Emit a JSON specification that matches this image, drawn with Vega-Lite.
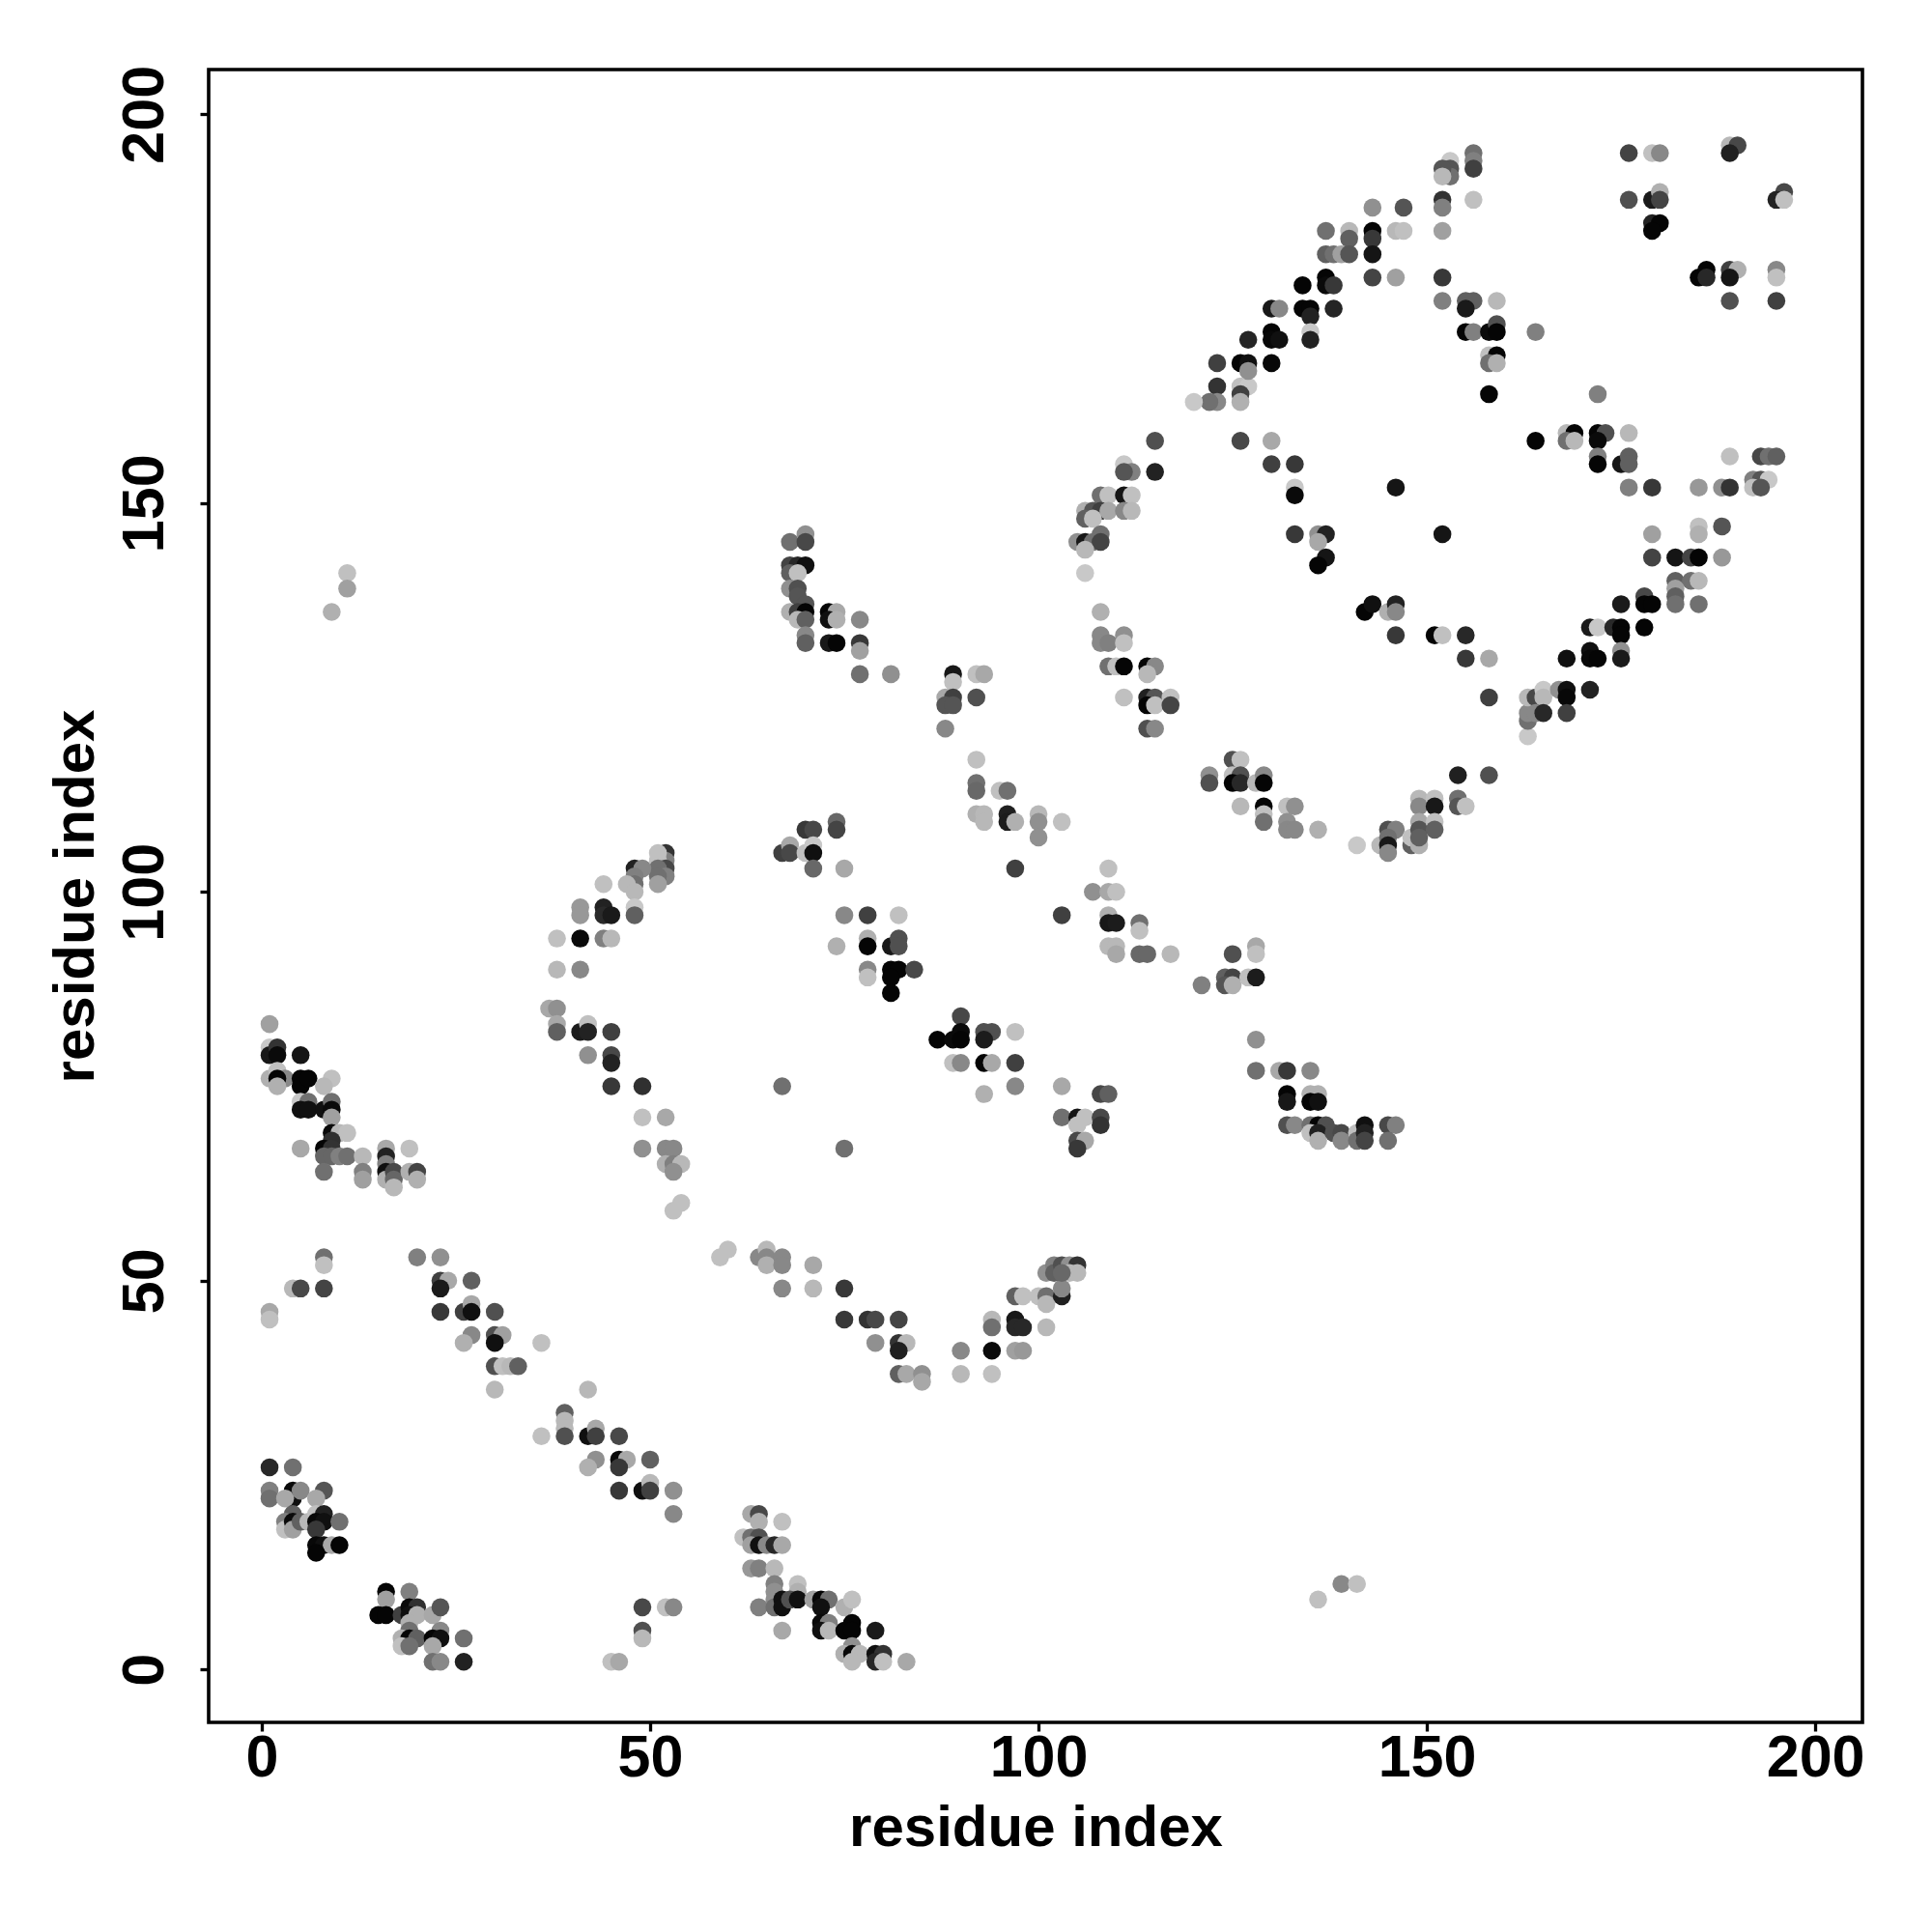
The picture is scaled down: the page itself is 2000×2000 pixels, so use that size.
{"$schema":"https://vega.github.io/schema/vega-lite/v6.json","width":1712,"height":1711,"autosize":{"type":"none"},"padding":{"left":216,"top":72,"right":72,"bottom":217},"background":"white","config":{"view":{"stroke":"#000000","strokeWidth":3.6}},"data":{"values":[
{"x":1,"y":83,"g":160},{"x":1,"y":80,"g":200},{"x":1,"y":79,"g":24},{"x":2,"y":80,"g":51},{"x":2,"y":79,"g":10},{"x":5,"y":79,"g":21},{"x":1,"y":76,"g":176},{"x":2,"y":77,"g":192},{"x":3,"y":76,"g":136},{"x":2,"y":76,"g":5},{"x":2,"y":75,"g":176},{"x":5,"y":76,"g":5},{"x":5,"y":75,"g":5},{"x":6,"y":76,"g":5},{"x":9,"y":76,"g":192},{"x":8,"y":75,"g":184},{"x":5,"y":73,"g":200},{"x":6,"y":73,"g":112},{"x":5,"y":72,"g":16},{"x":6,"y":72,"g":16},{"x":8,"y":72,"g":16},{"x":9,"y":73,"g":112},{"x":9,"y":72,"g":10},{"x":9,"y":71,"g":160},{"x":9,"y":69,"g":10},{"x":10,"y":69,"g":184},{"x":11,"y":69,"g":192},{"x":9,"y":68,"g":48},{"x":5,"y":67,"g":168},{"x":8,"y":67,"g":5},{"x":9,"y":67,"g":51},{"x":8,"y":66,"g":102},{"x":9,"y":66,"g":102},{"x":10,"y":66,"g":128},{"x":11,"y":66,"g":112},{"x":13,"y":66,"g":184},{"x":8,"y":64,"g":112},{"x":13,"y":64,"g":128},{"x":13,"y":63,"g":160},{"x":16,"y":67,"g":168},{"x":19,"y":67,"g":192},{"x":16,"y":66,"g":34},{"x":16,"y":65,"g":128},{"x":16,"y":64,"g":16},{"x":16,"y":63,"g":176},{"x":17,"y":64,"g":72},{"x":17,"y":63,"g":102},{"x":17,"y":62,"g":184},{"x":19,"y":64,"g":176},{"x":20,"y":64,"g":68},{"x":20,"y":63,"g":176},
{"x":20,"y":53,"g":128},{"x":23,"y":53,"g":144},{"x":23,"y":50,"g":64},{"x":24,"y":50,"g":168},{"x":23,"y":49,"g":26},{"x":27,"y":50,"g":96},{"x":8,"y":53,"g":112},{"x":8,"y":52,"g":192},{"x":4,"y":49,"g":184},{"x":5,"y":49,"g":72},{"x":8,"y":49,"g":68},{"x":1,"y":46,"g":168},{"x":1,"y":45,"g":192},{"x":23,"y":46,"g":56},{"x":26,"y":46,"g":64},{"x":27,"y":47,"g":168},{"x":27,"y":46,"g":16},{"x":30,"y":46,"g":80},{"x":27,"y":43,"g":136},{"x":26,"y":42,"g":176},{"x":30,"y":43,"g":80},{"x":31,"y":43,"g":160},{"x":30,"y":42,"g":16},{"x":36,"y":42,"g":192},{"x":30,"y":39,"g":80},{"x":31,"y":39,"g":192},{"x":32,"y":39,"g":184},{"x":33,"y":39,"g":96},{"x":30,"y":36,"g":184},{"x":42,"y":36,"g":184},{"x":39,"y":33,"g":96},{"x":39,"y":32,"g":184},{"x":39,"y":31,"g":184},{"x":39,"y":30,"g":80},{"x":36,"y":30,"g":192},{"x":42,"y":30,"g":16},{"x":43,"y":31,"g":168},{"x":43,"y":30,"g":64},{"x":46,"y":30,"g":72},
{"x":38,"y":90,"g":184},{"x":41,"y":90,"g":136},{"x":37,"y":85,"g":168},{"x":38,"y":85,"g":144},{"x":38,"y":83,"g":168},{"x":38,"y":82,"g":96},{"x":41,"y":82,"g":28},{"x":42,"y":83,"g":192},{"x":42,"y":82,"g":34},{"x":45,"y":82,"g":64},{"x":42,"y":79,"g":144},{"x":45,"y":79,"g":72},{"x":45,"y":78,"g":34},{"x":45,"y":75,"g":56},{"x":49,"y":75,"g":48},{"x":49,"y":71,"g":192},{"x":52,"y":71,"g":168},{"x":49,"y":67,"g":144},{"x":52,"y":67,"g":136},{"x":53,"y":67,"g":136},
{"x":1,"y":26,"g":40},{"x":4,"y":26,"g":112},{"x":1,"y":23,"g":128},{"x":1,"y":22,"g":112},{"x":4,"y":23,"g":10},{"x":4,"y":22,"g":16},{"x":3,"y":22,"g":168},{"x":5,"y":23,"g":136},{"x":8,"y":23,"g":85},{"x":7,"y":22,"g":168},{"x":4,"y":20,"g":96},{"x":3,"y":19,"g":128},{"x":3,"y":18,"g":192},{"x":4,"y":19,"g":10},{"x":4,"y":18,"g":160},{"x":5,"y":19,"g":96},{"x":6,"y":19,"g":184},{"x":7,"y":20,"g":192},{"x":8,"y":20,"g":32},{"x":7,"y":19,"g":8},{"x":8,"y":19,"g":16},{"x":7,"y":18,"g":56},{"x":10,"y":19,"g":112},{"x":7,"y":16,"g":8},{"x":8,"y":16,"g":16},{"x":9,"y":16,"g":168},{"x":10,"y":16,"g":5},{"x":7,"y":15,"g":5},
{"x":16,"y":10,"g":5},{"x":16,"y":9,"g":160},{"x":19,"y":10,"g":128},{"x":15,"y":7,"g":5},{"x":16,"y":7,"g":5},{"x":18,"y":7,"g":64},{"x":19,"y":8,"g":10},{"x":20,"y":8,"g":48},{"x":19,"y":7,"g":16},{"x":20,"y":7,"g":176},{"x":19,"y":6,"g":176},{"x":22,"y":7,"g":168},{"x":23,"y":8,"g":85},{"x":19,"y":5,"g":112},{"x":23,"y":5,"g":136},{"x":18,"y":4,"g":176},{"x":19,"y":4,"g":5},{"x":20,"y":4,"g":96},{"x":18,"y":3,"g":192},{"x":19,"y":3,"g":112},{"x":22,"y":4,"g":5},{"x":23,"y":4,"g":16},{"x":22,"y":3,"g":168},{"x":26,"y":4,"g":112},{"x":22,"y":1,"g":112},{"x":23,"y":1,"g":136},{"x":26,"y":1,"g":34},
{"x":43,"y":27,"g":144},{"x":42,"y":26,"g":176},{"x":46,"y":27,"g":8},{"x":47,"y":27,"g":168},{"x":46,"y":26,"g":56},{"x":50,"y":27,"g":96},{"x":46,"y":23,"g":56},{"x":49,"y":23,"g":16},{"x":50,"y":24,"g":184},{"x":50,"y":23,"g":64},{"x":53,"y":23,"g":144},{"x":53,"y":20,"g":136},{"x":49,"y":8,"g":72},{"x":49,"y":5,"g":80},{"x":49,"y":4,"g":184},{"x":52,"y":8,"g":192},{"x":53,"y":8,"g":136},{"x":45,"y":1,"g":192},{"x":46,"y":1,"g":168},
{"x":63,"y":20,"g":168},{"x":64,"y":20,"g":72},{"x":64,"y":19,"g":176},{"x":67,"y":19,"g":192},{"x":62,"y":17,"g":192},{"x":63,"y":17,"g":112},{"x":64,"y":17,"g":80},{"x":63,"y":16,"g":160},{"x":64,"y":16,"g":16},{"x":65,"y":16,"g":136},{"x":66,"y":16,"g":40},{"x":67,"y":16,"g":168},{"x":63,"y":13,"g":152},{"x":64,"y":13,"g":128},{"x":66,"y":13,"g":184},{"x":66,"y":11,"g":128},{"x":66,"y":10,"g":144},{"x":69,"y":11,"g":192},{"x":69,"y":10,"g":176},{"x":66,"y":9,"g":144},{"x":64,"y":8,"g":128},{"x":66,"y":8,"g":112},{"x":67,"y":9,"g":16},{"x":67,"y":8,"g":16},{"x":68,"y":9,"g":80},{"x":69,"y":9,"g":16},{"x":71,"y":9,"g":160},{"x":72,"y":9,"g":5},{"x":73,"y":9,"g":112},{"x":72,"y":8,"g":16},{"x":75,"y":8,"g":176},{"x":76,"y":9,"g":192},{"x":72,"y":6,"g":10},{"x":73,"y":6,"g":128},{"x":72,"y":5,"g":16},{"x":73,"y":5,"g":184},{"x":67,"y":5,"g":168},{"x":76,"y":6,"g":5},{"x":75,"y":5,"g":5},{"x":76,"y":5,"g":5},{"x":79,"y":5,"g":26},{"x":76,"y":3,"g":144},{"x":75,"y":2,"g":176},{"x":76,"y":2,"g":8},{"x":77,"y":2,"g":184},{"x":76,"y":1,"g":184},{"x":79,"y":2,"g":16},{"x":80,"y":2,"g":51},{"x":79,"y":1,"g":40},{"x":80,"y":1,"g":192},{"x":83,"y":1,"g":168},
{"x":52,"y":105,"g":51},{"x":52,"y":104,"g":128},{"x":51,"y":105,"g":192},{"x":51,"y":104,"g":192},{"x":52,"y":103,"g":72},{"x":51,"y":103,"g":112},{"x":52,"y":102,"g":128},{"x":51,"y":102,"g":112},{"x":51,"y":101,"g":160},{"x":48,"y":103,"g":34},{"x":49,"y":103,"g":136},{"x":48,"y":102,"g":128},{"x":48,"y":101,"g":112},{"x":47,"y":101,"g":184},{"x":44,"y":101,"g":192},{"x":48,"y":100,"g":184},{"x":48,"y":98,"g":200},{"x":48,"y":97,"g":96},{"x":41,"y":98,"g":152},{"x":41,"y":97,"g":152},{"x":44,"y":98,"g":34},{"x":44,"y":97,"g":42},{"x":45,"y":97,"g":26},{"x":38,"y":94,"g":192},{"x":41,"y":94,"g":10},{"x":44,"y":94,"g":128},{"x":45,"y":94,"g":184},
{"x":70,"y":108,"g":56},{"x":71,"y":108,"g":72},{"x":74,"y":109,"g":104},{"x":74,"y":108,"g":68},{"x":67,"y":105,"g":64},{"x":68,"y":106,"g":168},{"x":68,"y":105,"g":72},{"x":70,"y":105,"g":192},{"x":71,"y":106,"g":200},{"x":71,"y":105,"g":16},{"x":71,"y":103,"g":104},{"x":75,"y":103,"g":168},{"x":75,"y":97,"g":136},{"x":78,"y":97,"g":64},{"x":82,"y":97,"g":192},{"x":74,"y":93,"g":176},{"x":78,"y":94,"g":176},{"x":78,"y":93,"g":5},{"x":81,"y":93,"g":24},{"x":82,"y":94,"g":80},{"x":82,"y":93,"g":80},{"x":78,"y":90,"g":136},{"x":78,"y":89,"g":192},{"x":81,"y":90,"g":5},{"x":82,"y":90,"g":5},{"x":84,"y":90,"g":72},{"x":81,"y":89,"g":5},{"x":81,"y":87,"g":5},
{"x":52,"y":65,"g":176},{"x":53,"y":65,"g":128},{"x":54,"y":65,"g":184},{"x":53,"y":64,"g":144},{"x":54,"y":60,"g":192},{"x":53,"y":59,"g":192},{"x":59,"y":53,"g":192},{"x":60,"y":54,"g":192},{"x":64,"y":53,"g":136},{"x":65,"y":54,"g":184},{"x":65,"y":53,"g":136},{"x":65,"y":52,"g":176},{"x":67,"y":53,"g":136},{"x":67,"y":52,"g":136},{"x":71,"y":52,"g":168},{"x":67,"y":49,"g":136},{"x":71,"y":49,"g":184},{"x":75,"y":49,"g":56},{"x":67,"y":75,"g":112},{"x":75,"y":67,"g":112},
{"x":90,"y":84,"g":72},{"x":87,"y":81,"g":5},{"x":89,"y":81,"g":10},{"x":90,"y":82,"g":10},{"x":90,"y":81,"g":5},{"x":93,"y":82,"g":80},{"x":94,"y":82,"g":80},{"x":93,"y":81,"g":28},{"x":97,"y":82,"g":192},{"x":89,"y":78,"g":192},{"x":90,"y":78,"g":136},{"x":93,"y":78,"g":5},{"x":94,"y":78,"g":168},{"x":97,"y":78,"g":64},{"x":93,"y":74,"g":176},{"x":97,"y":75,"g":136},{"x":103,"y":75,"g":168},{"x":108,"y":74,"g":72},{"x":109,"y":74,"g":96},{"x":103,"y":71,"g":112},{"x":105,"y":71,"g":21},{"x":106,"y":71,"g":192},{"x":108,"y":71,"g":72},{"x":108,"y":70,"g":51},{"x":105,"y":70,"g":192},{"x":105,"y":68,"g":72},{"x":106,"y":68,"g":168},{"x":105,"y":67,"g":56},
{"x":75,"y":45,"g":56},{"x":78,"y":45,"g":51},{"x":79,"y":45,"g":72},{"x":82,"y":45,"g":68},{"x":79,"y":42,"g":144},{"x":82,"y":42,"g":51},{"x":83,"y":42,"g":184},{"x":82,"y":41,"g":32},{"x":82,"y":38,"g":96},{"x":83,"y":38,"g":168},{"x":85,"y":38,"g":144},{"x":85,"y":37,"g":168},{"x":90,"y":41,"g":136},{"x":90,"y":38,"g":184},{"x":94,"y":41,"g":10},{"x":94,"y":38,"g":192},{"x":94,"y":45,"g":184},{"x":94,"y":44,"g":112},{"x":97,"y":45,"g":24},{"x":97,"y":44,"g":40},{"x":98,"y":44,"g":40},{"x":101,"y":44,"g":184},{"x":97,"y":41,"g":160},{"x":98,"y":41,"g":152},{"x":97,"y":48,"g":96},{"x":98,"y":48,"g":192},{"x":100,"y":48,"g":192},{"x":101,"y":48,"g":112},{"x":101,"y":47,"g":184},{"x":103,"y":48,"g":32},{"x":103,"y":49,"g":136},{"x":101,"y":51,"g":144},{"x":102,"y":52,"g":128},{"x":102,"y":51,"g":96},{"x":103,"y":52,"g":80},{"x":104,"y":52,"g":144},{"x":105,"y":52,"g":51},{"x":104,"y":51,"g":184},{"x":105,"y":51,"g":184},{"x":103,"y":51,"g":104},
{"x":68,"y":145,"g":112},{"x":70,"y":146,"g":144},{"x":70,"y":145,"g":72},{"x":68,"y":142,"g":68},{"x":69,"y":142,"g":40},{"x":70,"y":142,"g":16},{"x":68,"y":141,"g":96},{"x":69,"y":141,"g":192},{"x":68,"y":139,"g":144},{"x":69,"y":139,"g":80},{"x":69,"y":138,"g":85},{"x":70,"y":137,"g":85},{"x":68,"y":136,"g":176},{"x":69,"y":136,"g":64},{"x":70,"y":136,"g":5},{"x":69,"y":135,"g":184},{"x":70,"y":135,"g":96},{"x":70,"y":133,"g":136},{"x":70,"y":132,"g":96},{"x":73,"y":136,"g":5},{"x":74,"y":136,"g":168},{"x":73,"y":135,"g":16},{"x":74,"y":135,"g":176},{"x":77,"y":135,"g":136},{"x":73,"y":132,"g":24},{"x":74,"y":132,"g":5},{"x":77,"y":132,"g":56},{"x":77,"y":131,"g":160},{"x":77,"y":128,"g":112},{"x":81,"y":128,"g":144},{"x":89,"y":128,"g":24},{"x":89,"y":127,"g":192},{"x":92,"y":128,"g":192},{"x":93,"y":128,"g":168},{"x":88,"y":125,"g":168},{"x":89,"y":125,"g":64},{"x":88,"y":124,"g":85},{"x":89,"y":124,"g":85},{"x":92,"y":125,"g":80},{"x":88,"y":121,"g":136},{"x":92,"y":117,"g":192},{"x":92,"y":114,"g":112},{"x":92,"y":113,"g":104},{"x":95,"y":113,"g":192},{"x":96,"y":113,"g":112},{"x":92,"y":110,"g":176},{"x":93,"y":110,"g":184},{"x":93,"y":109,"g":184},{"x":96,"y":110,"g":32},{"x":96,"y":109,"g":28},{"x":97,"y":109,"g":176},{"x":100,"y":110,"g":184},{"x":100,"y":109,"g":144},{"x":103,"y":109,"g":192},{"x":100,"y":107,"g":144},{"x":97,"y":103,"g":64},
{"x":108,"y":151,"g":112},{"x":109,"y":151,"g":192},{"x":111,"y":151,"g":21},{"x":112,"y":151,"g":192},{"x":106,"y":149,"g":176},{"x":107,"y":149,"g":85},{"x":108,"y":149,"g":64},{"x":109,"y":149,"g":168},{"x":111,"y":149,"g":136},{"x":112,"y":149,"g":184},{"x":106,"y":148,"g":96},{"x":107,"y":148,"g":192},{"x":105,"y":145,"g":144},{"x":106,"y":145,"g":24},{"x":107,"y":145,"g":112},{"x":108,"y":146,"g":112},{"x":108,"y":145,"g":68},{"x":106,"y":144,"g":184},{"x":106,"y":141,"g":200},{"x":108,"y":136,"g":176},{"x":108,"y":133,"g":136},{"x":111,"y":133,"g":144},{"x":108,"y":132,"g":136},{"x":109,"y":132,"g":128},{"x":111,"y":132,"g":192},{"x":109,"y":129,"g":112},{"x":110,"y":129,"g":192},{"x":111,"y":129,"g":5},{"x":114,"y":129,"g":5},{"x":115,"y":129,"g":136},{"x":114,"y":128,"g":184},{"x":111,"y":125,"g":192},{"x":114,"y":125,"g":32},{"x":115,"y":125,"g":85},{"x":117,"y":125,"g":192},{"x":114,"y":124,"g":5},{"x":115,"y":124,"g":192},{"x":117,"y":124,"g":68},{"x":114,"y":121,"g":80},{"x":115,"y":121,"g":136},{"x":109,"y":103,"g":192},{"x":107,"y":100,"g":144},{"x":109,"y":100,"g":168},{"x":110,"y":100,"g":192},{"x":103,"y":97,"g":64},{"x":109,"y":97,"g":176},{"x":109,"y":96,"g":24},{"x":110,"y":96,"g":28},{"x":113,"y":96,"g":112},{"x":113,"y":95,"g":192},{"x":109,"y":93,"g":184},{"x":110,"y":93,"g":184},{"x":110,"y":92,"g":168},{"x":113,"y":92,"g":104},{"x":114,"y":92,"g":104},{"x":117,"y":92,"g":184},
{"x":125,"y":117,"g":80},{"x":126,"y":117,"g":192},{"x":122,"y":115,"g":144},{"x":122,"y":114,"g":80},{"x":125,"y":115,"g":192},{"x":126,"y":115,"g":80},{"x":125,"y":114,"g":5},{"x":126,"y":114,"g":40},{"x":128,"y":114,"g":184},{"x":129,"y":115,"g":136},{"x":129,"y":114,"g":5},{"x":126,"y":111,"g":184},{"x":129,"y":111,"g":5},{"x":129,"y":110,"g":192},{"x":129,"y":109,"g":112},{"x":132,"y":111,"g":192},{"x":133,"y":111,"g":144},{"x":132,"y":109,"g":144},{"x":132,"y":108,"g":136},{"x":133,"y":108,"g":136},{"x":136,"y":108,"g":176},{"x":141,"y":106,"g":200},{"x":144,"y":106,"g":184},{"x":145,"y":108,"g":80},{"x":146,"y":108,"g":128},{"x":145,"y":107,"g":112},{"x":145,"y":106,"g":24},{"x":145,"y":105,"g":136},{"x":148,"y":106,"g":96},{"x":148,"y":107,"g":192},{"x":149,"y":106,"g":176},{"x":149,"y":112,"g":184},{"x":149,"y":111,"g":136},{"x":149,"y":109,"g":168},{"x":149,"y":108,"g":85},{"x":149,"y":107,"g":96},{"x":151,"y":112,"g":192},{"x":151,"y":111,"g":24},{"x":151,"y":109,"g":192},{"x":151,"y":108,"g":96},{"x":154,"y":115,"g":32},{"x":158,"y":115,"g":80},{"x":154,"y":112,"g":112},{"x":154,"y":111,"g":85},{"x":155,"y":111,"g":192},{"x":163,"y":120,"g":200},{"x":163,"y":122,"g":112},{"x":163,"y":123,"g":136},
{"x":125,"y":92,"g":80},{"x":128,"y":93,"g":168},{"x":128,"y":92,"g":192},{"x":121,"y":88,"g":128},{"x":124,"y":89,"g":96},{"x":125,"y":89,"g":68},{"x":124,"y":88,"g":85},{"x":125,"y":88,"g":176},{"x":127,"y":89,"g":192},{"x":128,"y":89,"g":28},{"x":128,"y":81,"g":144},{"x":128,"y":77,"g":112},{"x":131,"y":77,"g":168},{"x":132,"y":77,"g":56},{"x":135,"y":77,"g":136},{"x":132,"y":74,"g":5},{"x":132,"y":73,"g":24},{"x":135,"y":74,"g":176},{"x":136,"y":74,"g":176},{"x":135,"y":73,"g":5},{"x":136,"y":73,"g":16},{"x":132,"y":70,"g":80},{"x":133,"y":70,"g":136},{"x":135,"y":70,"g":112},{"x":136,"y":70,"g":5},{"x":137,"y":70,"g":80},{"x":135,"y":69,"g":192},{"x":136,"y":69,"g":32},{"x":136,"y":68,"g":176},{"x":138,"y":69,"g":80},{"x":139,"y":69,"g":72},{"x":139,"y":68,"g":136},{"x":141,"y":69,"g":192},{"x":141,"y":68,"g":112},{"x":142,"y":70,"g":16},{"x":142,"y":69,"g":34},{"x":142,"y":68,"g":68},{"x":145,"y":70,"g":72},{"x":146,"y":70,"g":128},{"x":145,"y":68,"g":112},
{"x":123,"y":165,"g":51},{"x":123,"y":163,"g":136},{"x":122,"y":163,"g":112},{"x":120,"y":163,"g":200},{"x":126,"y":165,"g":192},{"x":127,"y":165,"g":200},{"x":126,"y":164,"g":64},{"x":126,"y":163,"g":176},{"x":115,"y":158,"g":80},{"x":126,"y":158,"g":72},{"x":130,"y":158,"g":168},{"x":111,"y":155,"g":200},{"x":112,"y":154,"g":128},{"x":111,"y":154,"g":85},{"x":115,"y":154,"g":34},{"x":130,"y":155,"g":64},{"x":133,"y":155,"g":56},{"x":133,"y":152,"g":200},{"x":133,"y":151,"g":10},{"x":133,"y":146,"g":56},{"x":136,"y":146,"g":144},{"x":137,"y":146,"g":34},{"x":136,"y":145,"g":168},{"x":137,"y":143,"g":21},{"x":136,"y":142,"g":5},{"x":146,"y":152,"g":21},{"x":152,"y":146,"g":21},{"x":142,"y":136,"g":5},{"x":143,"y":137,"g":16},{"x":145,"y":136,"g":176},{"x":146,"y":137,"g":34},{"x":146,"y":136,"g":136},{"x":146,"y":133,"g":56},{"x":151,"y":133,"g":5},{"x":152,"y":133,"g":192},{"x":155,"y":133,"g":40},{"x":155,"y":130,"g":56},{"x":158,"y":130,"g":168},{"x":158,"y":125,"g":64},{"x":163,"y":125,"g":184},{"x":164,"y":125,"g":72},{"x":165,"y":126,"g":200},{"x":165,"y":125,"g":184},{"x":164,"y":123,"g":136},{"x":165,"y":123,"g":40},{"x":167,"y":126,"g":144},{"x":168,"y":126,"g":16},{"x":168,"y":125,"g":8},{"x":171,"y":126,"g":34},{"x":168,"y":123,"g":64},{"x":158,"y":164,"g":5},{"x":164,"y":158,"g":5},
{"x":156,"y":195,"g":112},{"x":156,"y":194,"g":128},{"x":156,"y":193,"g":64},{"x":153,"y":194,"g":200},{"x":153,"y":193,"g":85},{"x":153,"y":192,"g":112},{"x":152,"y":193,"g":85},{"x":152,"y":192,"g":184},{"x":156,"y":189,"g":192},{"x":152,"y":189,"g":51},{"x":152,"y":188,"g":128},{"x":176,"y":195,"g":68},{"x":179,"y":195,"g":192},{"x":180,"y":195,"g":136},{"x":189,"y":196,"g":184},{"x":190,"y":196,"g":72},{"x":189,"y":195,"g":32},{"x":176,"y":189,"g":80},{"x":179,"y":189,"g":26},{"x":180,"y":190,"g":176},{"x":180,"y":189,"g":68},{"x":179,"y":186,"g":34},{"x":180,"y":186,"g":5},{"x":179,"y":185,"g":5},{"x":196,"y":190,"g":72},{"x":195,"y":189,"g":34},{"x":196,"y":189,"g":192},{"x":185,"y":179,"g":5},{"x":186,"y":180,"g":5},{"x":186,"y":179,"g":40},{"x":189,"y":180,"g":64},{"x":190,"y":180,"g":176},{"x":189,"y":179,"g":21},{"x":195,"y":180,"g":136},{"x":195,"y":179,"g":192},{"x":189,"y":176,"g":80},{"x":195,"y":176,"g":64},{"x":152,"y":179,"g":56},{"x":152,"y":176,"g":128},{"x":155,"y":176,"g":96},{"x":156,"y":176,"g":96},{"x":155,"y":175,"g":26},{"x":159,"y":176,"g":184},{"x":155,"y":172,"g":5},{"x":156,"y":172,"g":128},{"x":158,"y":172,"g":10},{"x":159,"y":173,"g":80},{"x":159,"y":172,"g":5},{"x":164,"y":172,"g":128},{"x":158,"y":169,"g":192},{"x":159,"y":169,"g":5},{"x":158,"y":168,"g":112},{"x":159,"y":168,"g":176},{"x":172,"y":164,"g":128},{"x":168,"y":159,"g":184},{"x":169,"y":159,"g":5},{"x":168,"y":158,"g":112},{"x":169,"y":158,"g":184},{"x":172,"y":159,"g":5},{"x":173,"y":159,"g":80},{"x":172,"y":158,"g":10},{"x":176,"y":159,"g":184},{"x":172,"y":156,"g":128},{"x":172,"y":155,"g":5},{"x":175,"y":155,"g":21},{"x":176,"y":156,"g":96},{"x":176,"y":155,"g":96},{"x":176,"y":152,"g":128},{"x":179,"y":152,"g":56},{"x":185,"y":152,"g":152},{"x":188,"y":152,"g":144},{"x":189,"y":152,"g":51},{"x":189,"y":156,"g":192},{"x":193,"y":156,"g":72},{"x":194,"y":156,"g":112},{"x":195,"y":156,"g":96},{"x":192,"y":153,"g":128},{"x":193,"y":153,"g":85},{"x":194,"y":153,"g":200},{"x":192,"y":152,"g":192},{"x":193,"y":152,"g":85},{"x":179,"y":146,"g":160},{"x":185,"y":147,"g":192},{"x":185,"y":146,"g":176},{"x":188,"y":147,"g":85},{"x":179,"y":143,"g":68},{"x":182,"y":143,"g":21},{"x":184,"y":143,"g":68},{"x":185,"y":143,"g":5},{"x":188,"y":143,"g":152},{"x":182,"y":140,"g":96},{"x":184,"y":140,"g":112},{"x":185,"y":140,"g":184},{"x":182,"y":139,"g":160},{"x":182,"y":138,"g":96},{"x":182,"y":137,"g":112},{"x":185,"y":137,"g":112},{"x":178,"y":138,"g":72},{"x":175,"y":137,"g":26},{"x":178,"y":137,"g":5},{"x":179,"y":137,"g":5},{"x":171,"y":134,"g":26},{"x":172,"y":134,"g":200},{"x":174,"y":134,"g":40},{"x":175,"y":134,"g":5},{"x":178,"y":134,"g":5},{"x":175,"y":133,"g":5},{"x":175,"y":131,"g":144},{"x":175,"y":130,"g":26},{"x":168,"y":130,"g":16},{"x":171,"y":131,"g":16},{"x":171,"y":130,"g":8},{"x":172,"y":130,"g":5},
{"x":143,"y":188,"g":144},{"x":147,"y":188,"g":85},{"x":137,"y":185,"g":112},{"x":140,"y":185,"g":184},{"x":140,"y":184,"g":96},{"x":143,"y":185,"g":5},{"x":143,"y":184,"g":56},{"x":146,"y":185,"g":184},{"x":147,"y":185,"g":192},{"x":152,"y":185,"g":160},{"x":137,"y":182,"g":96},{"x":138,"y":182,"g":112},{"x":139,"y":182,"g":160},{"x":140,"y":182,"g":85},{"x":143,"y":182,"g":21},{"x":143,"y":179,"g":68},{"x":146,"y":179,"g":160},{"x":137,"y":179,"g":5},{"x":137,"y":178,"g":10},{"x":138,"y":178,"g":56},{"x":134,"y":178,"g":5},{"x":130,"y":175,"g":24},{"x":131,"y":175,"g":136},{"x":134,"y":175,"g":5},{"x":135,"y":175,"g":5},{"x":135,"y":174,"g":34},{"x":138,"y":175,"g":37},{"x":130,"y":172,"g":5},{"x":130,"y":171,"g":8},{"x":131,"y":171,"g":16},{"x":135,"y":172,"g":200},{"x":135,"y":171,"g":34},{"x":127,"y":171,"g":37},{"x":123,"y":168,"g":64},{"x":126,"y":168,"g":5},{"x":127,"y":168,"g":16},{"x":127,"y":167,"g":144},{"x":130,"y":168,"g":8},
{"x":9,"y":136,"g":176},{"x":11,"y":141,"g":192},{"x":11,"y":139,"g":160},{"x":136,"y":9,"g":192},{"x":139,"y":11,"g":136},{"x":141,"y":11,"g":192}
]},"mark":{"type":"circle","size":345,"opacity":1},"encoding":{"x":{"field":"x","type":"quantitative","scale":{"domain":[-6.84,206.08],"nice":false,"zero":false},"axis":{"values":[0,50,100,150,200],"title":"residue index","grid":false,"domain":false,"tickColor":"#000000","tickWidth":3.3,"tickSize":9,"labelFont":"Liberation Sans","labelFontWeight":"bold","labelFontSize":61,"labelColor":"#000000","labelBaseline":"alphabetic","labelPadding":46,"labelFlush":false,"labelOverlap":false,"titleFont":"Liberation Sans","titleFontWeight":"bold","titleFontSize":60,"titleColor":"#000000","titleBaseline":"alphabetic","titleY":127}},"y":{"field":"y","type":"quantitative","scale":{"domain":[-6.8,205.75],"nice":false,"zero":false},"axis":{"values":[0,50,100,150,200],"title":"residue index","grid":false,"domain":false,"tickColor":"#000000","tickWidth":3.3,"tickSize":9,"labelFont":"Liberation Sans","labelFontWeight":"bold","labelFontSize":61,"labelColor":"#000000","labelAngle":270,"labelAlign":"center","labelBaseline":"alphabetic","labelPadding":39,"labelFlush":false,"labelOverlap":false,"titleFont":"Liberation Sans","titleFontWeight":"bold","titleFontSize":60,"titleColor":"#000000","titleBaseline":"alphabetic","titleX":-120}},"color":{"field":"g","type":"quantitative","legend":null,"scale":{"domain":[0,255],"range":["#000000","#ffffff"],"interpolate":"rgb"}},"order":[{"field":"x","type":"quantitative"},{"field":"y","type":"quantitative"}]}}
